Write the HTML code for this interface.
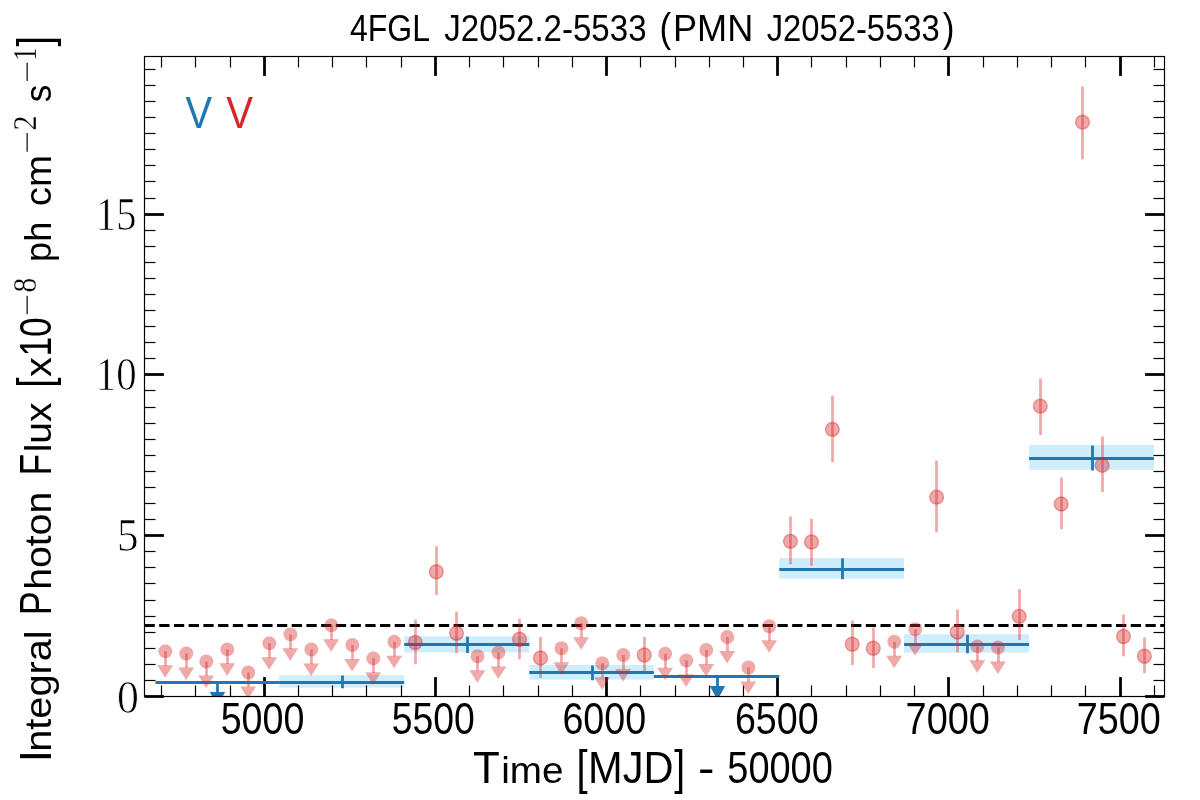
<!DOCTYPE html>
<html><head><meta charset="utf-8"><title>4FGL J2052.2-5533 (PMN J2052-5533)</title>
<style>html,body{margin:0;padding:0;background:#fff;}svg{display:block;will-change:transform;}text{font-family:"Liberation Sans",sans-serif;fill:#000;}.ser{font-family:"Liberation Serif",serif;stroke:#fff;stroke-width:0.7px;}.sup{stroke-width:0.25px;}</style></head><body>
<svg width="1200" height="800" viewBox="0 0 1200 800">
<rect x="0" y="0" width="1200" height="800" fill="#ffffff"/>
<defs><clipPath id="ax"><rect x="144.5" y="56.5" width="1020.0" height="640.0"/></clipPath></defs>
<g clip-path="url(#ax)">
<rect x="279.2" y="675.2" width="125.00" height="12.40" fill="#ceedfd"/>
<rect x="404.2" y="636.25" width="125.10" height="16.25" fill="#ceedfd"/>
<rect x="529.3" y="665" width="124.50" height="14.60" fill="#ceedfd"/>
<rect x="779.3" y="558" width="124.80" height="20.75" fill="#ceedfd"/>
<rect x="904.1" y="634.25" width="125.00" height="18.35" fill="#ceedfd"/>
<rect x="1029.1" y="445" width="124.80" height="24.80" fill="#ceedfd"/>
</g>
<g stroke="#000" fill="none">
<line x1="264.50" x2="264.50" y1="696.5" y2="677.1" stroke-width="2.78"/>
<line x1="264.50" x2="264.50" y1="56.5" y2="75.9" stroke-width="2.78"/>
<line x1="435.50" x2="435.50" y1="696.5" y2="677.1" stroke-width="2.78"/>
<line x1="435.50" x2="435.50" y1="56.5" y2="75.9" stroke-width="2.78"/>
<line x1="606.50" x2="606.50" y1="696.5" y2="677.1" stroke-width="2.78"/>
<line x1="606.50" x2="606.50" y1="56.5" y2="75.9" stroke-width="2.78"/>
<line x1="777.50" x2="777.50" y1="696.5" y2="677.1" stroke-width="2.78"/>
<line x1="777.50" x2="777.50" y1="56.5" y2="75.9" stroke-width="2.78"/>
<line x1="948.50" x2="948.50" y1="696.5" y2="677.1" stroke-width="2.78"/>
<line x1="948.50" x2="948.50" y1="56.5" y2="75.9" stroke-width="2.78"/>
<line x1="1120.50" x2="1120.50" y1="696.5" y2="677.1" stroke-width="2.78"/>
<line x1="1120.50" x2="1120.50" y1="56.5" y2="75.9" stroke-width="2.78"/>
<line x1="161.50" x2="161.50" y1="696.5" y2="685.5" stroke-width="1.2"/>
<line x1="161.50" x2="161.50" y1="56.5" y2="67.5" stroke-width="1.2"/>
<line x1="195.50" x2="195.50" y1="696.5" y2="685.5" stroke-width="1.2"/>
<line x1="195.50" x2="195.50" y1="56.5" y2="67.5" stroke-width="1.2"/>
<line x1="230.50" x2="230.50" y1="696.5" y2="685.5" stroke-width="1.2"/>
<line x1="230.50" x2="230.50" y1="56.5" y2="67.5" stroke-width="1.2"/>
<line x1="298.50" x2="298.50" y1="696.5" y2="685.5" stroke-width="1.2"/>
<line x1="298.50" x2="298.50" y1="56.5" y2="67.5" stroke-width="1.2"/>
<line x1="332.50" x2="332.50" y1="696.5" y2="685.5" stroke-width="1.2"/>
<line x1="332.50" x2="332.50" y1="56.5" y2="67.5" stroke-width="1.2"/>
<line x1="366.50" x2="366.50" y1="696.5" y2="685.5" stroke-width="1.2"/>
<line x1="366.50" x2="366.50" y1="56.5" y2="67.5" stroke-width="1.2"/>
<line x1="401.50" x2="401.50" y1="696.5" y2="685.5" stroke-width="1.2"/>
<line x1="401.50" x2="401.50" y1="56.5" y2="67.5" stroke-width="1.2"/>
<line x1="469.50" x2="469.50" y1="696.5" y2="685.5" stroke-width="1.2"/>
<line x1="469.50" x2="469.50" y1="56.5" y2="67.5" stroke-width="1.2"/>
<line x1="503.50" x2="503.50" y1="696.5" y2="685.5" stroke-width="1.2"/>
<line x1="503.50" x2="503.50" y1="56.5" y2="67.5" stroke-width="1.2"/>
<line x1="538.50" x2="538.50" y1="696.5" y2="685.5" stroke-width="1.2"/>
<line x1="538.50" x2="538.50" y1="56.5" y2="67.5" stroke-width="1.2"/>
<line x1="572.50" x2="572.50" y1="696.5" y2="685.5" stroke-width="1.2"/>
<line x1="572.50" x2="572.50" y1="56.5" y2="67.5" stroke-width="1.2"/>
<line x1="640.50" x2="640.50" y1="696.5" y2="685.5" stroke-width="1.2"/>
<line x1="640.50" x2="640.50" y1="56.5" y2="67.5" stroke-width="1.2"/>
<line x1="675.50" x2="675.50" y1="696.5" y2="685.5" stroke-width="1.2"/>
<line x1="675.50" x2="675.50" y1="56.5" y2="67.5" stroke-width="1.2"/>
<line x1="709.50" x2="709.50" y1="696.5" y2="685.5" stroke-width="1.2"/>
<line x1="709.50" x2="709.50" y1="56.5" y2="67.5" stroke-width="1.2"/>
<line x1="743.50" x2="743.50" y1="696.5" y2="685.5" stroke-width="1.2"/>
<line x1="743.50" x2="743.50" y1="56.5" y2="67.5" stroke-width="1.2"/>
<line x1="811.50" x2="811.50" y1="696.5" y2="685.5" stroke-width="1.2"/>
<line x1="811.50" x2="811.50" y1="56.5" y2="67.5" stroke-width="1.2"/>
<line x1="846.50" x2="846.50" y1="696.5" y2="685.5" stroke-width="1.2"/>
<line x1="846.50" x2="846.50" y1="56.5" y2="67.5" stroke-width="1.2"/>
<line x1="880.50" x2="880.50" y1="696.5" y2="685.5" stroke-width="1.2"/>
<line x1="880.50" x2="880.50" y1="56.5" y2="67.5" stroke-width="1.2"/>
<line x1="914.50" x2="914.50" y1="696.5" y2="685.5" stroke-width="1.2"/>
<line x1="914.50" x2="914.50" y1="56.5" y2="67.5" stroke-width="1.2"/>
<line x1="983.50" x2="983.50" y1="696.5" y2="685.5" stroke-width="1.2"/>
<line x1="983.50" x2="983.50" y1="56.5" y2="67.5" stroke-width="1.2"/>
<line x1="1017.50" x2="1017.50" y1="696.5" y2="685.5" stroke-width="1.2"/>
<line x1="1017.50" x2="1017.50" y1="56.5" y2="67.5" stroke-width="1.2"/>
<line x1="1051.50" x2="1051.50" y1="696.5" y2="685.5" stroke-width="1.2"/>
<line x1="1051.50" x2="1051.50" y1="56.5" y2="67.5" stroke-width="1.2"/>
<line x1="1085.50" x2="1085.50" y1="696.5" y2="685.5" stroke-width="1.2"/>
<line x1="1085.50" x2="1085.50" y1="56.5" y2="67.5" stroke-width="1.2"/>
<line x1="1154.50" x2="1154.50" y1="696.5" y2="685.5" stroke-width="1.2"/>
<line x1="1154.50" x2="1154.50" y1="56.5" y2="67.5" stroke-width="1.2"/>
<line x1="144.5" x2="163.9" y1="696.50" y2="696.50" stroke-width="2.78"/>
<line x1="1164.5" x2="1145.1" y1="696.50" y2="696.50" stroke-width="2.78"/>
<line x1="144.5" x2="155.5" y1="680.50" y2="680.50" stroke-width="1.2"/>
<line x1="1164.5" x2="1153.5" y1="680.50" y2="680.50" stroke-width="1.2"/>
<line x1="144.5" x2="155.5" y1="664.50" y2="664.50" stroke-width="1.2"/>
<line x1="1164.5" x2="1153.5" y1="664.50" y2="664.50" stroke-width="1.2"/>
<line x1="144.5" x2="155.5" y1="648.50" y2="648.50" stroke-width="1.2"/>
<line x1="1164.5" x2="1153.5" y1="648.50" y2="648.50" stroke-width="1.2"/>
<line x1="144.5" x2="155.5" y1="632.50" y2="632.50" stroke-width="1.2"/>
<line x1="1164.5" x2="1153.5" y1="632.50" y2="632.50" stroke-width="1.2"/>
<line x1="144.5" x2="155.5" y1="616.50" y2="616.50" stroke-width="1.2"/>
<line x1="1164.5" x2="1153.5" y1="616.50" y2="616.50" stroke-width="1.2"/>
<line x1="144.5" x2="155.5" y1="600.50" y2="600.50" stroke-width="1.2"/>
<line x1="1164.5" x2="1153.5" y1="600.50" y2="600.50" stroke-width="1.2"/>
<line x1="144.5" x2="155.5" y1="583.50" y2="583.50" stroke-width="1.2"/>
<line x1="1164.5" x2="1153.5" y1="583.50" y2="583.50" stroke-width="1.2"/>
<line x1="144.5" x2="155.5" y1="567.50" y2="567.50" stroke-width="1.2"/>
<line x1="1164.5" x2="1153.5" y1="567.50" y2="567.50" stroke-width="1.2"/>
<line x1="144.5" x2="155.5" y1="551.50" y2="551.50" stroke-width="1.2"/>
<line x1="1164.5" x2="1153.5" y1="551.50" y2="551.50" stroke-width="1.2"/>
<line x1="144.5" x2="163.9" y1="535.50" y2="535.50" stroke-width="2.78"/>
<line x1="1164.5" x2="1145.1" y1="535.50" y2="535.50" stroke-width="2.78"/>
<line x1="144.5" x2="155.5" y1="519.50" y2="519.50" stroke-width="1.2"/>
<line x1="1164.5" x2="1153.5" y1="519.50" y2="519.50" stroke-width="1.2"/>
<line x1="144.5" x2="155.5" y1="503.50" y2="503.50" stroke-width="1.2"/>
<line x1="1164.5" x2="1153.5" y1="503.50" y2="503.50" stroke-width="1.2"/>
<line x1="144.5" x2="155.5" y1="487.50" y2="487.50" stroke-width="1.2"/>
<line x1="1164.5" x2="1153.5" y1="487.50" y2="487.50" stroke-width="1.2"/>
<line x1="144.5" x2="155.5" y1="471.50" y2="471.50" stroke-width="1.2"/>
<line x1="1164.5" x2="1153.5" y1="471.50" y2="471.50" stroke-width="1.2"/>
<line x1="144.5" x2="155.5" y1="455.50" y2="455.50" stroke-width="1.2"/>
<line x1="1164.5" x2="1153.5" y1="455.50" y2="455.50" stroke-width="1.2"/>
<line x1="144.5" x2="155.5" y1="439.50" y2="439.50" stroke-width="1.2"/>
<line x1="1164.5" x2="1153.5" y1="439.50" y2="439.50" stroke-width="1.2"/>
<line x1="144.5" x2="155.5" y1="423.50" y2="423.50" stroke-width="1.2"/>
<line x1="1164.5" x2="1153.5" y1="423.50" y2="423.50" stroke-width="1.2"/>
<line x1="144.5" x2="155.5" y1="407.50" y2="407.50" stroke-width="1.2"/>
<line x1="1164.5" x2="1153.5" y1="407.50" y2="407.50" stroke-width="1.2"/>
<line x1="144.5" x2="155.5" y1="390.50" y2="390.50" stroke-width="1.2"/>
<line x1="1164.5" x2="1153.5" y1="390.50" y2="390.50" stroke-width="1.2"/>
<line x1="144.5" x2="163.9" y1="374.50" y2="374.50" stroke-width="2.78"/>
<line x1="1164.5" x2="1145.1" y1="374.50" y2="374.50" stroke-width="2.78"/>
<line x1="144.5" x2="155.5" y1="358.50" y2="358.50" stroke-width="1.2"/>
<line x1="1164.5" x2="1153.5" y1="358.50" y2="358.50" stroke-width="1.2"/>
<line x1="144.5" x2="155.5" y1="342.50" y2="342.50" stroke-width="1.2"/>
<line x1="1164.5" x2="1153.5" y1="342.50" y2="342.50" stroke-width="1.2"/>
<line x1="144.5" x2="155.5" y1="326.50" y2="326.50" stroke-width="1.2"/>
<line x1="1164.5" x2="1153.5" y1="326.50" y2="326.50" stroke-width="1.2"/>
<line x1="144.5" x2="155.5" y1="310.50" y2="310.50" stroke-width="1.2"/>
<line x1="1164.5" x2="1153.5" y1="310.50" y2="310.50" stroke-width="1.2"/>
<line x1="144.5" x2="155.5" y1="294.50" y2="294.50" stroke-width="1.2"/>
<line x1="1164.5" x2="1153.5" y1="294.50" y2="294.50" stroke-width="1.2"/>
<line x1="144.5" x2="155.5" y1="278.50" y2="278.50" stroke-width="1.2"/>
<line x1="1164.5" x2="1153.5" y1="278.50" y2="278.50" stroke-width="1.2"/>
<line x1="144.5" x2="155.5" y1="262.50" y2="262.50" stroke-width="1.2"/>
<line x1="1164.5" x2="1153.5" y1="262.50" y2="262.50" stroke-width="1.2"/>
<line x1="144.5" x2="155.5" y1="246.50" y2="246.50" stroke-width="1.2"/>
<line x1="1164.5" x2="1153.5" y1="246.50" y2="246.50" stroke-width="1.2"/>
<line x1="144.5" x2="155.5" y1="230.50" y2="230.50" stroke-width="1.2"/>
<line x1="1164.5" x2="1153.5" y1="230.50" y2="230.50" stroke-width="1.2"/>
<line x1="144.5" x2="163.9" y1="214.50" y2="214.50" stroke-width="2.78"/>
<line x1="1164.5" x2="1145.1" y1="214.50" y2="214.50" stroke-width="2.78"/>
<line x1="144.5" x2="155.5" y1="198.50" y2="198.50" stroke-width="1.2"/>
<line x1="1164.5" x2="1153.5" y1="198.50" y2="198.50" stroke-width="1.2"/>
<line x1="144.5" x2="155.5" y1="181.50" y2="181.50" stroke-width="1.2"/>
<line x1="1164.5" x2="1153.5" y1="181.50" y2="181.50" stroke-width="1.2"/>
<line x1="144.5" x2="155.5" y1="165.50" y2="165.50" stroke-width="1.2"/>
<line x1="1164.5" x2="1153.5" y1="165.50" y2="165.50" stroke-width="1.2"/>
<line x1="144.5" x2="155.5" y1="149.50" y2="149.50" stroke-width="1.2"/>
<line x1="1164.5" x2="1153.5" y1="149.50" y2="149.50" stroke-width="1.2"/>
<line x1="144.5" x2="155.5" y1="133.50" y2="133.50" stroke-width="1.2"/>
<line x1="1164.5" x2="1153.5" y1="133.50" y2="133.50" stroke-width="1.2"/>
<line x1="144.5" x2="155.5" y1="117.50" y2="117.50" stroke-width="1.2"/>
<line x1="1164.5" x2="1153.5" y1="117.50" y2="117.50" stroke-width="1.2"/>
<line x1="144.5" x2="155.5" y1="101.50" y2="101.50" stroke-width="1.2"/>
<line x1="1164.5" x2="1153.5" y1="101.50" y2="101.50" stroke-width="1.2"/>
<line x1="144.5" x2="155.5" y1="85.50" y2="85.50" stroke-width="1.2"/>
<line x1="1164.5" x2="1153.5" y1="85.50" y2="85.50" stroke-width="1.2"/>
<line x1="144.5" x2="155.5" y1="69.50" y2="69.50" stroke-width="1.2"/>
<line x1="1164.5" x2="1153.5" y1="69.50" y2="69.50" stroke-width="1.2"/>
</g>
<g clip-path="url(#ax)">
<line x1="144.5" x2="1164.5" y1="625.5" y2="625.5" stroke="#000" stroke-width="2.78" stroke-dasharray="10.28 4.44"/>
<line x1="155.5" x2="279.6" y1="682.5" y2="682.5" stroke="#1f77b4" stroke-width="2.78"/>
<line x1="217.5" x2="217.5" y1="682.5" y2="693.0" stroke="#1f77b4" stroke-width="2.78"/>
<polygon points="209.80,692.00 225.20,692.00 217.50,705.90" fill="#1f77b4"/>
<line x1="279.2" x2="404.2" y1="682.5" y2="682.5" stroke="#1f77b4" stroke-width="2.78"/>
<line x1="342.5" x2="342.5" y1="675.6" y2="688.2" stroke="#1f77b4" stroke-width="2.78"/>
<line x1="404.2" x2="529.3" y1="644.5" y2="644.5" stroke="#1f77b4" stroke-width="2.78"/>
<line x1="467.5" x2="467.5" y1="636.65" y2="653.1" stroke="#1f77b4" stroke-width="2.78"/>
<line x1="529.3" x2="653.8" y1="672.5" y2="672.5" stroke="#1f77b4" stroke-width="2.78"/>
<line x1="592.5" x2="592.5" y1="665.4" y2="680.2" stroke="#1f77b4" stroke-width="2.78"/>
<line x1="653.8" x2="779.3" y1="676.5" y2="676.5" stroke="#1f77b4" stroke-width="2.78"/>
<line x1="717.5" x2="717.5" y1="676.5" y2="687.0" stroke="#1f77b4" stroke-width="2.78"/>
<polygon points="709.80,686.00 725.20,686.00 717.50,699.90" fill="#1f77b4"/>
<line x1="779.3" x2="904.1" y1="569.5" y2="569.5" stroke="#1f77b4" stroke-width="2.78"/>
<line x1="842.5" x2="842.5" y1="558.4" y2="579.35" stroke="#1f77b4" stroke-width="2.78"/>
<line x1="904.1" x2="1029.1" y1="644.5" y2="644.5" stroke="#1f77b4" stroke-width="2.78"/>
<line x1="967.5" x2="967.5" y1="634.65" y2="653.2" stroke="#1f77b4" stroke-width="2.78"/>
<line x1="1029.1" x2="1153.9" y1="458.5" y2="458.5" stroke="#1f77b4" stroke-width="2.78"/>
<line x1="1092.5" x2="1092.5" y1="445.4" y2="470.40000000000003" stroke="#1f77b4" stroke-width="2.78"/>
<line x1="165.5" x2="165.5" y1="651.3" y2="665.9" stroke="#d62728" stroke-opacity="0.4" stroke-width="2.78"/>
<polygon points="157.20,665.20 173.10,665.20 165.15,677.80" fill="#d62728" fill-opacity="0.4"/>
<circle cx="165.3" cy="651.3" r="6.94" fill="#d62728" fill-opacity="0.4"/>
<line x1="186.5" x2="186.5" y1="653.5" y2="668.1" stroke="#d62728" stroke-opacity="0.4" stroke-width="2.78"/>
<polygon points="178.20,667.40 194.10,667.40 186.15,680.00" fill="#d62728" fill-opacity="0.4"/>
<circle cx="186.3" cy="653.5" r="6.94" fill="#d62728" fill-opacity="0.4"/>
<line x1="206.5" x2="206.5" y1="661.5" y2="676.1" stroke="#d62728" stroke-opacity="0.4" stroke-width="2.78"/>
<polygon points="198.20,675.40 214.10,675.40 206.15,688.00" fill="#d62728" fill-opacity="0.4"/>
<circle cx="206.3" cy="661.5" r="6.94" fill="#d62728" fill-opacity="0.4"/>
<line x1="227.5" x2="227.5" y1="649.4" y2="664.0" stroke="#d62728" stroke-opacity="0.4" stroke-width="2.78"/>
<polygon points="219.20,663.30 235.10,663.30 227.15,675.90" fill="#d62728" fill-opacity="0.4"/>
<circle cx="227.3" cy="649.4" r="6.94" fill="#d62728" fill-opacity="0.4"/>
<line x1="248.5" x2="248.5" y1="672.5" y2="687.1" stroke="#d62728" stroke-opacity="0.4" stroke-width="2.78"/>
<polygon points="240.20,686.40 256.10,686.40 248.15,699.00" fill="#d62728" fill-opacity="0.4"/>
<circle cx="248.3" cy="672.5" r="6.94" fill="#d62728" fill-opacity="0.4"/>
<line x1="269.5" x2="269.5" y1="643.3" y2="657.9" stroke="#d62728" stroke-opacity="0.4" stroke-width="2.78"/>
<polygon points="261.20,657.20 277.10,657.20 269.15,669.80" fill="#d62728" fill-opacity="0.4"/>
<circle cx="269.3" cy="643.3" r="6.94" fill="#d62728" fill-opacity="0.4"/>
<line x1="290.5" x2="290.5" y1="634.4" y2="649.0" stroke="#d62728" stroke-opacity="0.4" stroke-width="2.78"/>
<polygon points="282.30,648.30 298.20,648.30 290.25,660.90" fill="#d62728" fill-opacity="0.4"/>
<circle cx="290.4" cy="634.4" r="6.94" fill="#d62728" fill-opacity="0.4"/>
<line x1="311.5" x2="311.5" y1="649.5" y2="664.1" stroke="#d62728" stroke-opacity="0.4" stroke-width="2.78"/>
<polygon points="303.20,663.40 319.10,663.40 311.15,676.00" fill="#d62728" fill-opacity="0.4"/>
<circle cx="311.3" cy="649.5" r="6.94" fill="#d62728" fill-opacity="0.4"/>
<line x1="331.5" x2="331.5" y1="625.3" y2="639.9" stroke="#d62728" stroke-opacity="0.4" stroke-width="2.78"/>
<polygon points="323.20,639.20 339.10,639.20 331.15,651.80" fill="#d62728" fill-opacity="0.4"/>
<circle cx="331.3" cy="625.3" r="6.94" fill="#d62728" fill-opacity="0.4"/>
<line x1="352.5" x2="352.5" y1="645.0" y2="659.6" stroke="#d62728" stroke-opacity="0.4" stroke-width="2.78"/>
<polygon points="344.20,658.90 360.10,658.90 352.15,671.50" fill="#d62728" fill-opacity="0.4"/>
<circle cx="352.3" cy="645.0" r="6.94" fill="#d62728" fill-opacity="0.4"/>
<line x1="373.5" x2="373.5" y1="658.3" y2="672.9" stroke="#d62728" stroke-opacity="0.4" stroke-width="2.78"/>
<polygon points="365.20,672.20 381.10,672.20 373.15,684.80" fill="#d62728" fill-opacity="0.4"/>
<circle cx="373.3" cy="658.3" r="6.94" fill="#d62728" fill-opacity="0.4"/>
<line x1="394.5" x2="394.5" y1="641.8" y2="656.4" stroke="#d62728" stroke-opacity="0.4" stroke-width="2.78"/>
<polygon points="386.20,655.70 402.10,655.70 394.15,668.30" fill="#d62728" fill-opacity="0.4"/>
<circle cx="394.3" cy="641.8" r="6.94" fill="#d62728" fill-opacity="0.4"/>
<line x1="415.5" x2="415.5" y1="619.5" y2="664.25" stroke="#d62728" stroke-opacity="0.4" stroke-width="2.78"/>
<circle cx="415.3" cy="642.5" r="6.94" fill="#d62728" fill-opacity="0.4" stroke="#d62728" stroke-opacity="0.4" stroke-width="1.39"/>
<line x1="436.5" x2="436.5" y1="546.25" y2="595" stroke="#d62728" stroke-opacity="0.4" stroke-width="2.78"/>
<circle cx="436.3" cy="571.75" r="6.94" fill="#d62728" fill-opacity="0.4" stroke="#d62728" stroke-opacity="0.4" stroke-width="1.39"/>
<line x1="456.5" x2="456.5" y1="611.75" y2="653" stroke="#d62728" stroke-opacity="0.4" stroke-width="2.78"/>
<circle cx="456.5" cy="633.25" r="6.94" fill="#d62728" fill-opacity="0.4" stroke="#d62728" stroke-opacity="0.4" stroke-width="1.39"/>
<line x1="477.5" x2="477.5" y1="656.25" y2="670.85" stroke="#d62728" stroke-opacity="0.4" stroke-width="2.78"/>
<polygon points="469.40,670.15 485.30,670.15 477.35,682.75" fill="#d62728" fill-opacity="0.4"/>
<circle cx="477.5" cy="656.25" r="6.94" fill="#d62728" fill-opacity="0.4"/>
<line x1="498.5" x2="498.5" y1="652.5" y2="667.1" stroke="#d62728" stroke-opacity="0.4" stroke-width="2.78"/>
<polygon points="490.40,666.40 506.30,666.40 498.35,679.00" fill="#d62728" fill-opacity="0.4"/>
<circle cx="498.5" cy="652.5" r="6.94" fill="#d62728" fill-opacity="0.4"/>
<line x1="519.5" x2="519.5" y1="618.75" y2="659.25" stroke="#d62728" stroke-opacity="0.4" stroke-width="2.78"/>
<circle cx="519.5" cy="639.25" r="6.94" fill="#d62728" fill-opacity="0.4" stroke="#d62728" stroke-opacity="0.4" stroke-width="1.39"/>
<line x1="540.5" x2="540.5" y1="637" y2="678" stroke="#d62728" stroke-opacity="0.4" stroke-width="2.78"/>
<circle cx="540.5" cy="658" r="6.94" fill="#d62728" fill-opacity="0.4" stroke="#d62728" stroke-opacity="0.4" stroke-width="1.39"/>
<line x1="561.5" x2="561.5" y1="648.25" y2="662.85" stroke="#d62728" stroke-opacity="0.4" stroke-width="2.78"/>
<polygon points="553.40,662.15 569.30,662.15 561.35,674.75" fill="#d62728" fill-opacity="0.4"/>
<circle cx="561.5" cy="648.25" r="6.94" fill="#d62728" fill-opacity="0.4"/>
<line x1="581.5" x2="581.5" y1="623.25" y2="637.85" stroke="#d62728" stroke-opacity="0.4" stroke-width="2.78"/>
<polygon points="573.15,637.15 589.05,637.15 581.10,649.75" fill="#d62728" fill-opacity="0.4"/>
<circle cx="581.25" cy="623.25" r="6.94" fill="#d62728" fill-opacity="0.4"/>
<line x1="602.5" x2="602.5" y1="663.25" y2="677.85" stroke="#d62728" stroke-opacity="0.4" stroke-width="2.78"/>
<polygon points="594.15,677.15 610.05,677.15 602.10,689.75" fill="#d62728" fill-opacity="0.4"/>
<circle cx="602.25" cy="663.25" r="6.94" fill="#d62728" fill-opacity="0.4"/>
<line x1="623.5" x2="623.5" y1="655" y2="669.6" stroke="#d62728" stroke-opacity="0.4" stroke-width="2.78"/>
<polygon points="615.15,668.90 631.05,668.90 623.10,681.50" fill="#d62728" fill-opacity="0.4"/>
<circle cx="623.25" cy="655" r="6.94" fill="#d62728" fill-opacity="0.4"/>
<line x1="644.5" x2="644.5" y1="636.75" y2="671.25" stroke="#d62728" stroke-opacity="0.4" stroke-width="2.78"/>
<circle cx="644.25" cy="655" r="6.94" fill="#d62728" fill-opacity="0.4" stroke="#d62728" stroke-opacity="0.4" stroke-width="1.39"/>
<line x1="665.5" x2="665.5" y1="653.75" y2="668.35" stroke="#d62728" stroke-opacity="0.4" stroke-width="2.78"/>
<polygon points="657.15,667.65 673.05,667.65 665.10,680.25" fill="#d62728" fill-opacity="0.4"/>
<circle cx="665.25" cy="653.75" r="6.94" fill="#d62728" fill-opacity="0.4"/>
<line x1="686.5" x2="686.5" y1="660.5" y2="675.1" stroke="#d62728" stroke-opacity="0.4" stroke-width="2.78"/>
<polygon points="678.15,674.40 694.05,674.40 686.10,687.00" fill="#d62728" fill-opacity="0.4"/>
<circle cx="686.25" cy="660.5" r="6.94" fill="#d62728" fill-opacity="0.4"/>
<line x1="706.5" x2="706.5" y1="650" y2="664.6" stroke="#d62728" stroke-opacity="0.4" stroke-width="2.78"/>
<polygon points="698.15,663.90 714.05,663.90 706.10,676.50" fill="#d62728" fill-opacity="0.4"/>
<circle cx="706.25" cy="650" r="6.94" fill="#d62728" fill-opacity="0.4"/>
<line x1="727.5" x2="727.5" y1="637" y2="651.6" stroke="#d62728" stroke-opacity="0.4" stroke-width="2.78"/>
<polygon points="719.15,650.90 735.05,650.90 727.10,663.50" fill="#d62728" fill-opacity="0.4"/>
<circle cx="727.25" cy="637" r="6.94" fill="#d62728" fill-opacity="0.4"/>
<line x1="748.5" x2="748.5" y1="667.5" y2="682.1" stroke="#d62728" stroke-opacity="0.4" stroke-width="2.78"/>
<polygon points="740.30,681.40 756.20,681.40 748.25,694.00" fill="#d62728" fill-opacity="0.4"/>
<circle cx="748.4" cy="667.5" r="6.94" fill="#d62728" fill-opacity="0.4"/>
<line x1="769.5" x2="769.5" y1="626.25" y2="640.85" stroke="#d62728" stroke-opacity="0.4" stroke-width="2.78"/>
<polygon points="761.15,640.15 777.05,640.15 769.10,652.75" fill="#d62728" fill-opacity="0.4"/>
<circle cx="769.25" cy="626.25" r="6.94" fill="#d62728" fill-opacity="0.4"/>
<line x1="790.5" x2="790.5" y1="516.5" y2="564.25" stroke="#d62728" stroke-opacity="0.4" stroke-width="2.78"/>
<circle cx="790.4" cy="541.3" r="6.94" fill="#d62728" fill-opacity="0.4" stroke="#d62728" stroke-opacity="0.4" stroke-width="1.39"/>
<line x1="811.5" x2="811.5" y1="518.8" y2="565.75" stroke="#d62728" stroke-opacity="0.4" stroke-width="2.78"/>
<circle cx="811.5" cy="542" r="6.94" fill="#d62728" fill-opacity="0.4" stroke="#d62728" stroke-opacity="0.4" stroke-width="1.39"/>
<line x1="832.5" x2="832.5" y1="395.7" y2="462.1" stroke="#d62728" stroke-opacity="0.4" stroke-width="2.78"/>
<circle cx="832.4" cy="429.3" r="6.94" fill="#d62728" fill-opacity="0.4" stroke="#d62728" stroke-opacity="0.4" stroke-width="1.39"/>
<line x1="852.5" x2="852.5" y1="620.5" y2="665" stroke="#d62728" stroke-opacity="0.4" stroke-width="2.78"/>
<circle cx="852.25" cy="644.25" r="6.94" fill="#d62728" fill-opacity="0.4" stroke="#d62728" stroke-opacity="0.4" stroke-width="1.39"/>
<line x1="873.5" x2="873.5" y1="627.5" y2="668" stroke="#d62728" stroke-opacity="0.4" stroke-width="2.78"/>
<circle cx="873.25" cy="648.25" r="6.94" fill="#d62728" fill-opacity="0.4" stroke="#d62728" stroke-opacity="0.4" stroke-width="1.39"/>
<line x1="894.5" x2="894.5" y1="641.75" y2="656.35" stroke="#d62728" stroke-opacity="0.4" stroke-width="2.78"/>
<polygon points="886.15,655.65 902.05,655.65 894.10,668.25" fill="#d62728" fill-opacity="0.4"/>
<circle cx="894.25" cy="641.75" r="6.94" fill="#d62728" fill-opacity="0.4"/>
<line x1="915.5" x2="915.5" y1="629.25" y2="643.85" stroke="#d62728" stroke-opacity="0.4" stroke-width="2.78"/>
<polygon points="907.15,643.15 923.05,643.15 915.10,655.75" fill="#d62728" fill-opacity="0.4"/>
<circle cx="915.25" cy="629.25" r="6.94" fill="#d62728" fill-opacity="0.4"/>
<line x1="936.5" x2="936.5" y1="460.5" y2="532.3" stroke="#d62728" stroke-opacity="0.4" stroke-width="2.78"/>
<circle cx="936.6" cy="497.2" r="6.94" fill="#d62728" fill-opacity="0.4" stroke="#d62728" stroke-opacity="0.4" stroke-width="1.39"/>
<line x1="957.5" x2="957.5" y1="609.5" y2="652.5" stroke="#d62728" stroke-opacity="0.4" stroke-width="2.78"/>
<circle cx="957.25" cy="632" r="6.94" fill="#d62728" fill-opacity="0.4" stroke="#d62728" stroke-opacity="0.4" stroke-width="1.39"/>
<line x1="977.5" x2="977.5" y1="646.4" y2="661.0" stroke="#d62728" stroke-opacity="0.4" stroke-width="2.78"/>
<polygon points="969.30,660.30 985.20,660.30 977.25,672.90" fill="#d62728" fill-opacity="0.4"/>
<circle cx="977.4" cy="646.4" r="6.94" fill="#d62728" fill-opacity="0.4"/>
<line x1="998.5" x2="998.5" y1="647.5" y2="662.1" stroke="#d62728" stroke-opacity="0.4" stroke-width="2.78"/>
<polygon points="989.90,661.40 1005.80,661.40 997.85,674.00" fill="#d62728" fill-opacity="0.4"/>
<circle cx="998" cy="647.5" r="6.94" fill="#d62728" fill-opacity="0.4"/>
<line x1="1019.5" x2="1019.5" y1="589.3" y2="640.1" stroke="#d62728" stroke-opacity="0.4" stroke-width="2.78"/>
<circle cx="1019.2" cy="616.3" r="6.94" fill="#d62728" fill-opacity="0.4" stroke="#d62728" stroke-opacity="0.4" stroke-width="1.39"/>
<line x1="1040.5" x2="1040.5" y1="378.4" y2="434.9" stroke="#d62728" stroke-opacity="0.4" stroke-width="2.78"/>
<circle cx="1040.3" cy="406.1" r="6.94" fill="#d62728" fill-opacity="0.4" stroke="#d62728" stroke-opacity="0.4" stroke-width="1.39"/>
<line x1="1061.5" x2="1061.5" y1="477.4" y2="529.2" stroke="#d62728" stroke-opacity="0.4" stroke-width="2.78"/>
<circle cx="1061.2" cy="504.0" r="6.94" fill="#d62728" fill-opacity="0.4" stroke="#d62728" stroke-opacity="0.4" stroke-width="1.39"/>
<line x1="1082.5" x2="1082.5" y1="86.5" y2="159.3" stroke="#d62728" stroke-opacity="0.4" stroke-width="2.78"/>
<circle cx="1082.5" cy="122.2" r="6.94" fill="#d62728" fill-opacity="0.4" stroke="#d62728" stroke-opacity="0.4" stroke-width="1.39"/>
<line x1="1102.5" x2="1102.5" y1="436.5" y2="492" stroke="#d62728" stroke-opacity="0.4" stroke-width="2.78"/>
<circle cx="1102.2" cy="465.3" r="6.94" fill="#d62728" fill-opacity="0.4" stroke="#d62728" stroke-opacity="0.4" stroke-width="1.39"/>
<line x1="1123.5" x2="1123.5" y1="614.5" y2="656.25" stroke="#d62728" stroke-opacity="0.4" stroke-width="2.78"/>
<circle cx="1123.5" cy="636.5" r="6.94" fill="#d62728" fill-opacity="0.4" stroke="#d62728" stroke-opacity="0.4" stroke-width="1.39"/>
<line x1="1144.5" x2="1144.5" y1="637.5" y2="673.3" stroke="#d62728" stroke-opacity="0.4" stroke-width="2.78"/>
<circle cx="1144.4" cy="656.25" r="6.94" fill="#d62728" fill-opacity="0.4" stroke="#d62728" stroke-opacity="0.4" stroke-width="1.39"/>
</g>
<rect x="144.5" y="56.5" width="1020.0" height="640.0" fill="none" stroke="#000" stroke-width="1.2"/>
<text x="349.96" y="41.00" font-size="36" textLength="80.03" lengthAdjust="spacingAndGlyphs">4FGL</text>
<text x="444.34" y="41.00" font-size="36" textLength="202.19" lengthAdjust="spacingAndGlyphs">J2052.2-5533</text>
<text x="659.40" y="42.00" font-size="40.3" textLength="11.66" lengthAdjust="spacingAndGlyphs">(</text>
<text x="673.01" y="41.00" font-size="36" textLength="80.26" lengthAdjust="spacingAndGlyphs">PMN</text>
<text x="766.64" y="41.00" font-size="36" textLength="173.14" lengthAdjust="spacingAndGlyphs">J2052-5533</text>
<text x="942.65" y="42.00" font-size="40.3" textLength="11.79" lengthAdjust="spacingAndGlyphs">)</text>
<text x="220.69" y="734.30" font-size="43.5" textLength="83.71" lengthAdjust="spacingAndGlyphs">5000</text>
<text x="391.71" y="734.30" font-size="43.5" textLength="83.09" lengthAdjust="spacingAndGlyphs">5500</text>
<text x="562.42" y="734.30" font-size="43.5" textLength="83.69" lengthAdjust="spacingAndGlyphs">6000</text>
<text x="734.92" y="734.30" font-size="43.5" textLength="83.69" lengthAdjust="spacingAndGlyphs">6500</text>
<text x="905.61" y="734.30" font-size="43.5" textLength="84.21" lengthAdjust="spacingAndGlyphs">7000</text>
<text x="1076.81" y="734.30" font-size="43.5" textLength="84.00" lengthAdjust="spacingAndGlyphs">7500</text>
<text x="117.05" y="712.60" font-size="46.3" textLength="21.90" lengthAdjust="spacingAndGlyphs" class="ser">0</text>
<text x="116.91" y="551.30" font-size="46.3" textLength="21.63" lengthAdjust="spacingAndGlyphs" class="ser">5</text>
<text x="95.83" y="390.40" font-size="46.3" textLength="40.80" lengthAdjust="spacingAndGlyphs" class="ser">10</text>
<text x="95.85" y="230.20" font-size="46.3" textLength="40.57" lengthAdjust="spacingAndGlyphs" class="ser">15</text>
<text x="473.12" y="783.00" font-size="44.3" textLength="26.80" lengthAdjust="spacingAndGlyphs">T</text>
<text x="501.29" y="783.00" font-size="37.0" textLength="62.31" lengthAdjust="spacingAndGlyphs">ime</text>
<text x="576.60" y="784.30" font-size="48.5" textLength="11.12" lengthAdjust="spacingAndGlyphs">[</text>
<text x="588.08" y="783.00" font-size="44.3" textLength="85.41" lengthAdjust="spacingAndGlyphs">MJD</text>
<text x="674.21" y="784.30" font-size="48.5" textLength="10.84" lengthAdjust="spacingAndGlyphs">]</text>
<text x="697.92" y="783.00" font-size="44.3" textLength="16.52" lengthAdjust="spacingAndGlyphs">-</text>
<text x="727.28" y="783.00" font-size="43.5" textLength="105.57" lengthAdjust="spacingAndGlyphs">50000</text>
<text x="185.40" y="128.00" font-size="44.3" textLength="26.58" lengthAdjust="spacingAndGlyphs" style="fill:#1f77b4">V</text>
<text x="226.30" y="128.00" font-size="44.3" textLength="26.78" lengthAdjust="spacingAndGlyphs" style="fill:#d62728">V</text>
<g transform="translate(50.9,0) rotate(-90)">
<text x="-762.36" y="0.00" font-size="44.3" textLength="12.23" lengthAdjust="spacingAndGlyphs">I</text>
<text x="-751.78" y="0.00" font-size="37.0" textLength="121.36" lengthAdjust="spacingAndGlyphs">ntegral</text>
<text x="-615.27" y="0.00" font-size="44.3" textLength="23.96" lengthAdjust="spacingAndGlyphs">P</text>
<text x="-589.84" y="0.00" font-size="37.0" textLength="97.99" lengthAdjust="spacingAndGlyphs">hoton</text>
<text x="-475.62" y="0.00" font-size="44.3" textLength="21.57" lengthAdjust="spacingAndGlyphs">F</text>
<text x="-452.33" y="0.00" font-size="37.0" textLength="49.85" lengthAdjust="spacingAndGlyphs">lux</text>
<text x="-387.45" y="0.30" font-size="48.5" textLength="10.15" lengthAdjust="spacingAndGlyphs">[</text>
<text x="-377.10" y="0.00" font-size="37.0" textLength="19.90" lengthAdjust="spacingAndGlyphs">x</text>
<text x="-356.62" y="0.00" font-size="43.5" textLength="39.21" lengthAdjust="spacingAndGlyphs">10</text>
<text x="-316.19" y="-13.30" font-size="33" textLength="22.44" lengthAdjust="spacingAndGlyphs" class="ser sup">−</text>
<text x="-292.58" y="-15.00" font-size="33.3" textLength="14.76" lengthAdjust="spacingAndGlyphs" class="ser sup">8</text>
<text x="-261.97" y="0.00" font-size="37.0" textLength="40.22" lengthAdjust="spacingAndGlyphs">ph</text>
<text x="-206.34" y="0.00" font-size="37.0" textLength="51.27" lengthAdjust="spacingAndGlyphs">cm</text>
<text x="-154.04" y="-13.30" font-size="33" textLength="23.04" lengthAdjust="spacingAndGlyphs" class="ser sup">−</text>
<text x="-130.41" y="-15.00" font-size="33.3" textLength="15.12" lengthAdjust="spacingAndGlyphs" class="ser sup">2</text>
<text x="-102.15" y="0.00" font-size="37.0" textLength="17.56" lengthAdjust="spacingAndGlyphs">s</text>
<text x="-82.96" y="-13.30" font-size="33" textLength="22.08" lengthAdjust="spacingAndGlyphs" class="ser sup">−</text>
<text x="-60.97" y="-15.00" font-size="33.3" textLength="13.71" lengthAdjust="spacingAndGlyphs" class="ser sup">1</text>
<text x="-46.58" y="0.30" font-size="48.5" textLength="10.42" lengthAdjust="spacingAndGlyphs">]</text>
</g>
</svg></body></html>
